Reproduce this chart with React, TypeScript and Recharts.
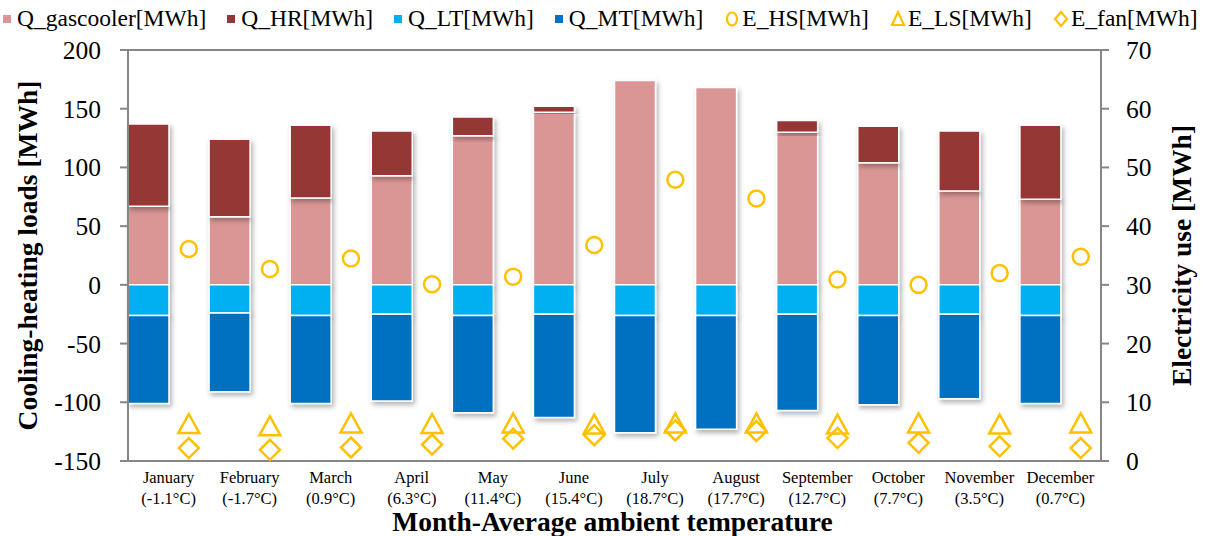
import { ComposedChart, Bar, Line, XAxis, YAxis, CartesianGrid, Label } from 'recharts'

const months = ['January', 'February', 'March', 'April', 'May', 'June', 'July', 'August', 'September', 'October', 'November', 'December']
const temps = ['(-1.1°C)', '(-1.7°C)', '(0.9°C)', '(6.3°C)', '(11.4°C)', '(15.4°C)', '(18.7°C)', '(17.7°C)', '(12.7°C)', '(7.7°C)', '(3.5°C)', '(0.7°C)']

const gascooler = [67, 58, 74, 93, 127, 147, 174, 168, 130, 104, 80, 73]
const hr = [70, 66, 62, 38, 16, 5, 0, 0, 10, 31, 51, 63]
const lt = [-26, -24, -26, -25, -26, -25, -26, -26, -25, -26, -25, -26]
const mt = [-75, -67, -75, -74, -83, -88, -100, -97, -82, -76, -72, -75]
const eHS = [36.1, 32.7, 34.5, 30.1, 31.4, 36.8, 47.9, 44.7, 30.9, 30.0, 32.0, 34.8]
const eLS = [6.3, 5.9, 6.4, 6.3, 6.4, 6.2, 6.4, 6.4, 6.2, 6.4, 6.2, 6.4]
const eFan = [2.2, 1.9, 2.3, 2.8, 3.8, 4.4, 5.2, 5.1, 3.9, 3.1, 2.5, 2.2]

const leftTicks = [-150, -100, -50, 0, 50, 100, 150, 200]
const rightTicks = [0, 10, 20, 30, 40, 50, 60, 70]

// markers sit in the right half of each month slot
const data = months.map((m, i) => ({
  month: m,
  temp: temps[i],
  pos: i + 0.75,
  gascooler: gascooler[i],
  hr: hr[i],
  lt: lt[i],
  mt: mt[i],
  eHS: eHS[i],
  eLS: eLS[i],
  eFan: eFan[i],
}))

const FONT = '"Liberation Serif", serif'
const GRID = '#868686'
const YEL = '#FFC000'

const bars = [
  { key: 'gascooler', name: 'Q_gascooler[MWh]', color: '#D99694' },
  { key: 'hr', name: 'Q_HR[MWh]', color: '#953735' },
  { key: 'lt', name: 'Q_LT[MWh]', color: '#00B0F0' },
  { key: 'mt', name: 'Q_MT[MWh]', color: '#0070C0' },
]
const markers = [
  { key: 'eHS', name: 'E_HS[MWh]', shape: 'circle' },
  { key: 'eLS', name: 'E_LS[MWh]', shape: 'triangle' },
  { key: 'eFan', name: 'E_fan[MWh]', shape: 'diamond' },
]

function Marker({ cx, cy, shape }: { cx: number; cy: number; shape: string }) {
  if (cx == null || cy == null) return null
  if (shape === 'circle') {
    return <circle cx={cx} cy={cy} r={8} fill="none" stroke={YEL} strokeWidth={2.5} />
  }
  if (shape === 'triangle') {
    return (
      <polygon
        points={`${cx},${cy - 10} ${cx + 10.5},${cy + 9} ${cx - 10.5},${cy + 9}`}
        fill="none" stroke={YEL} strokeWidth={2.5}
      />
    )
  }
  return (
    <polygon
      points={`${cx},${cy - 10} ${cx + 10},${cy} ${cx},${cy + 10} ${cx - 10},${cy}`}
      fill="none" stroke={YEL} strokeWidth={2.5}
    />
  )
}

function MonthTick(props: any) {
  const { x, y, payload, index } = props
  return (
    <text x={x} y={y} textAnchor="middle" fontFamily={FONT} fontSize={16.5} fill="#000">
      <tspan x={x} dy={14}>{payload.value}</tspan>
      <tspan x={x} dy={21}>{temps[index]}</tspan>
    </text>
  )
}

function ValueTick(props: any) {
  const { x, y, payload, textAnchor } = props
  return (
    <text x={x} y={y} dy={9} textAnchor={textAnchor} fontFamily={FONT} fontSize={25.5} fill="#000">
      {payload.value}
    </text>
  )
}

function Legend() {
  return (
    <div style={{ position: 'absolute', left: 3, top: 5, display: 'flex', alignItems: 'center', gap: 21, fontFamily: FONT, fontSize: 23.5, whiteSpace: 'nowrap', color: '#000' }}>
      {bars.map(b => (
        <div key={b.key} style={{ display: 'flex', alignItems: 'center', gap: 6 }}>
          <span style={{ width: 8, height: 8, background: b.color, display: 'inline-block' }} />
          <span>{b.name}</span>
        </div>
      ))}
      {markers.map(m => (
        <div key={m.key} style={{ display: 'flex', alignItems: 'center', gap: 2 }}>
          <svg width={16} height={18}>
            {m.shape === 'circle' && <ellipse cx={8} cy={9} rx={5} ry={6.5} fill="none" stroke={YEL} strokeWidth={2.2} />}
            {m.shape === 'triangle' && <polygon points="8,2 14,15 2,15" fill="none" stroke={YEL} strokeWidth={2.2} />}
            {m.shape === 'diamond' && <polygon points="8,2 14,9 8,16 2,9" fill="none" stroke={YEL} strokeWidth={2.2} />}
          </svg>
          <span>{m.name}</span>
        </div>
      ))}
    </div>
  )
}

export default function App() {
  return (
    <div style={{ position: 'absolute', left: 0, top: 0, width: 1224, height: 536, background: '#fff' }}>
      <Legend />
      <ComposedChart
        width={1224}
        height={536}
        data={data}
        margin={{ top: 50, right: 0, bottom: 0, left: 0 }}
        stackOffset="sign"
        barCategoryGap={0}
        barGap={0}
      >
        <defs>
          <filter id="shadow" x="-20%" y="-20%" width="150%" height="150%">
            <feDropShadow dx={2} dy={3} stdDeviation={2.5} floodColor="#000" floodOpacity={0.3} />
          </filter>
        </defs>
        <CartesianGrid vertical={false} stroke={GRID} strokeWidth={2} />
        <XAxis
          dataKey="month"
          height={75}
          axisLine={false}
          tickLine={false}
          interval={0}
          tick={<MonthTick />}
        >
          <Label
            content={(p: any) => {
              const vb = p.viewBox
              return (
                <text x={vb.x + vb.width / 2 - 2} y={vb.y + 70} textAnchor="middle" fontFamily={FONT} fontSize={27.5} fontWeight="bold">
                  Month-Average ambient temperature
                </text>
              )
            }}
          />
        </XAxis>
        <XAxis xAxisId="m" type="number" dataKey="pos" domain={[0, 12]} hide />
        <YAxis
          yAxisId="left"
          width={128}
          domain={[-150, 200]}
          ticks={leftTicks}
          interval={0}
          axisLine={{ stroke: GRID, strokeWidth: 2 }}
          tickLine={{ stroke: GRID, strokeWidth: 2 }}
          tickSize={8}
          tick={<ValueTick />}
          tickMargin={19}
        >
          <Label
            content={(p: any) => {
              const vb = p.viewBox
              const cy = vb.y + vb.height / 2
              return (
                <text x={37} y={cy} transform={`rotate(-90, 37, ${cy})`} textAnchor="middle" fontFamily={FONT} fontSize={27.5} fontWeight="bold">
                  Cooling-heating loads [MWh]
                </text>
              )
            }}
          />
        </YAxis>
        <YAxis
          yAxisId="right"
          orientation="right"
          width={123}
          domain={[0, 70]}
          ticks={rightTicks}
          interval={0}
          axisLine={{ stroke: GRID, strokeWidth: 2 }}
          tickLine={{ stroke: GRID, strokeWidth: 2 }}
          tickSize={8}
          tick={<ValueTick />}
          tickMargin={17}
        >
          <Label
            content={(p: any) => {
              const vb = p.viewBox
              const cy = vb.y + vb.height / 2
              return (
                <text x={1191} y={cy} transform={`rotate(-90, 1191, ${cy})`} textAnchor="middle" fontFamily={FONT} fontSize={27.5} fontWeight="bold">
                  Electricity use [MWh]
                </text>
              )
            }}
          />
        </YAxis>
        {bars.map(b => (
          <Bar
            key={b.key}
            yAxisId="left"
            dataKey={b.key}
            name={b.name}
            stackId="q"
            fill={b.color}
            stroke="#fff"
            strokeWidth={1.5}
            filter="url(#shadow)"
            isAnimationActive={false}
          />
        ))}
        <Bar yAxisId="left" dataKey={() => 0} stackId="pad" fill="none" legendType="none" isAnimationActive={false} />
        {markers.map(m => (
          <Line
            key={m.key}
            xAxisId="m"
            yAxisId="right"
            dataKey={m.key}
            name={m.name}
            stroke="none"
            dot={(p: any) => <Marker key={`${m.key}-${p.index}`} cx={p.cx} cy={p.cy} shape={m.shape} />}
            activeDot={false}
            isAnimationActive={false}
          />
        ))}
      </ComposedChart>
    </div>
  )
}
